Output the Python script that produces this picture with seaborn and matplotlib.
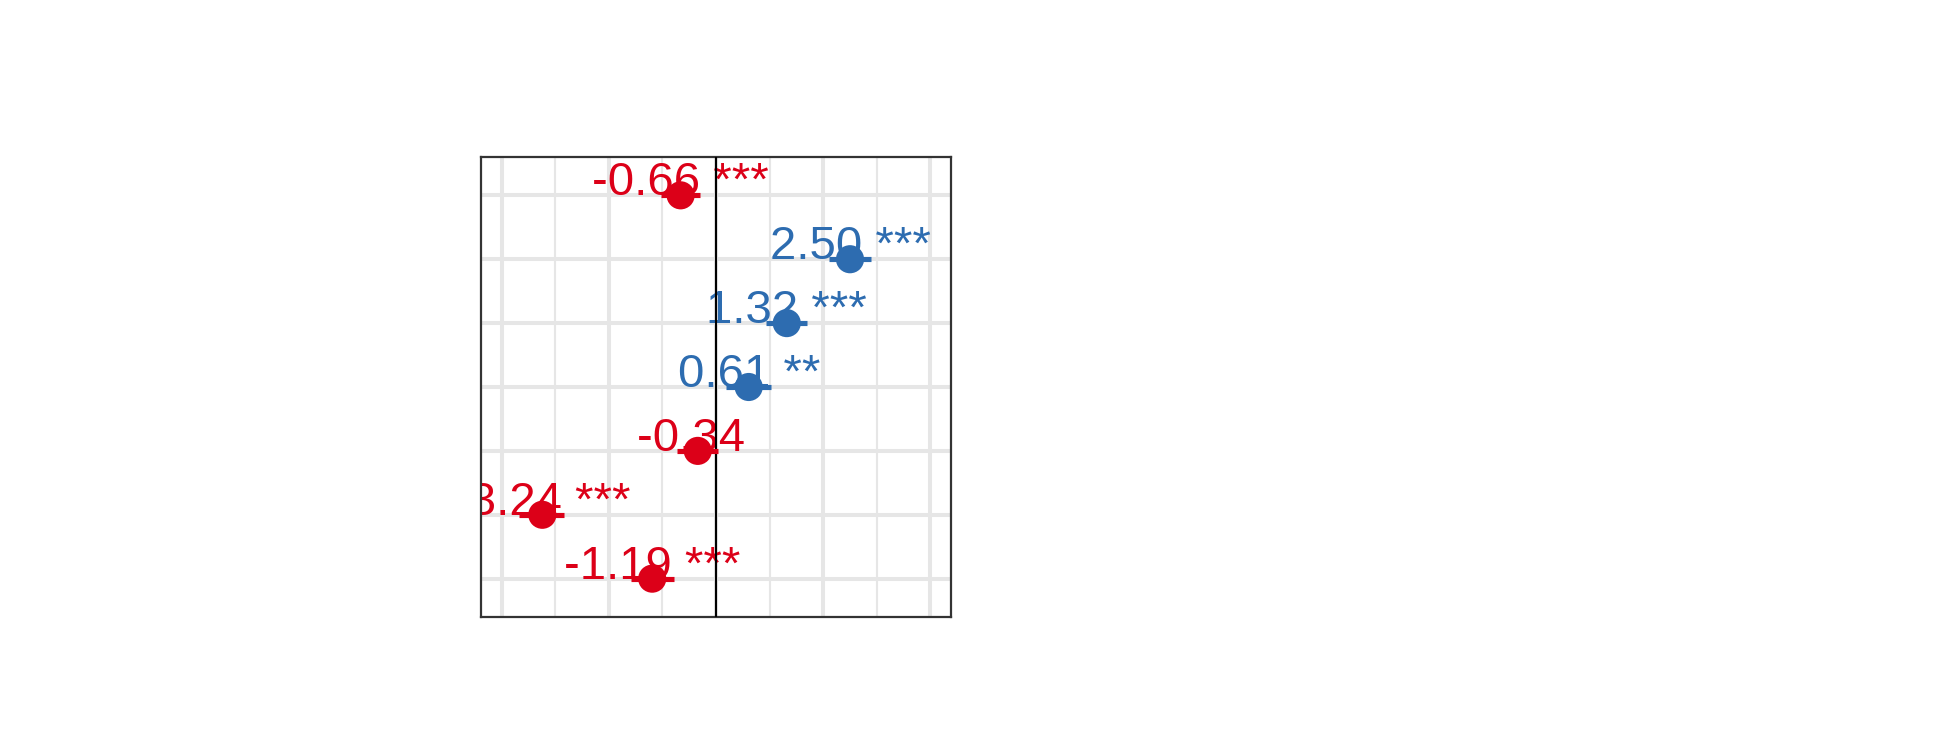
import matplotlib
matplotlib.use("Agg")
import matplotlib.pyplot as plt
import seaborn as sns
import pandas as pd
import numpy as np

# ---- data ----
rows = ["r1", "r2", "r3", "r4", "r5", "r6", "r7"]
estimate = [-0.66, 2.50, 1.32, 0.61, -0.34, -3.24, -1.19]
ci_low = [-1.03, 2.10, 0.93, 0.18, -0.72, -3.68, -1.59]
ci_high = [-0.29, 2.89, 1.70, 1.03, 0.03, -2.84, -0.78]
stars = ["***", "***", "***", "**", "", "***", "***"]

RED = "#DC0018"
BLUE = "#2D6CB0"

df = pd.DataFrame({
    "row": rows,
    "pos": np.arange(len(rows)),
    "est": estimate,
    "lo": ci_low,
    "hi": ci_high,
    "stars": stars,
})
df["dir"] = np.where(df["est"] >= 0, "pos", "neg")
df["label"] = [f"{e:.2f} {s}" for e, s in zip(df["est"], df["stars"])]

sns.set_theme(style="white")
plt.rcParams["font.family"] = ["Liberation Sans", "DejaVu Sans"]

W, H = 1950, 750
fig = plt.figure(figsize=(W / 100, H / 100), dpi=100)
ax = fig.add_axes([481 / W, 1 - 617 / H, 470 / W, 460 / H])

ax.set_xlim(-4.384, 4.384)
ax.set_ylim(len(rows) - 1 + 0.6, -0.6)

# grid
ax.set_xticks([-4, -2, 0, 2, 4])
ax.set_xticks([-3, -1, 1, 3], minor=True)
ax.set_yticks(df["pos"])
ax.grid(which="major", color="#E6E6E6", linewidth=2.9)
ax.grid(which="minor", axis="x", color="#E6E6E6", linewidth=1.5)
ax.set_axisbelow(True)
ax.tick_params(which="both", length=0, labelbottom=False, labelleft=False)

for sp in ax.spines.values():
    sp.set_color("#333333")
    sp.set_linewidth(1.6)
    sp.set_visible(True)

# labels (under the points)
for _, r in df.iterrows():
    col = BLUE if r["dir"] == "pos" else RED
    ax.text(r["est"], r["pos"], r["label"], color=col, fontsize=34,
            ha="center", va="baseline", clip_on=True, zorder=2)

ax.axvline(0, color="black", linewidth=1.5, zorder=3)

for _, r in df.iterrows():
    col = BLUE if r["dir"] == "pos" else RED
    ax.hlines(r["pos"], r["lo"], r["hi"], color=col, linewidth=3.7, zorder=4)

sns.scatterplot(data=df, x="est", y="pos", hue="dir",
                palette={"pos": BLUE, "neg": RED}, s=410, linewidth=0,
                legend=False, ax=ax, zorder=5)
ax.set_xlabel("")
ax.set_ylabel("")

fig.savefig("out.png", dpi=100, facecolor="white")
